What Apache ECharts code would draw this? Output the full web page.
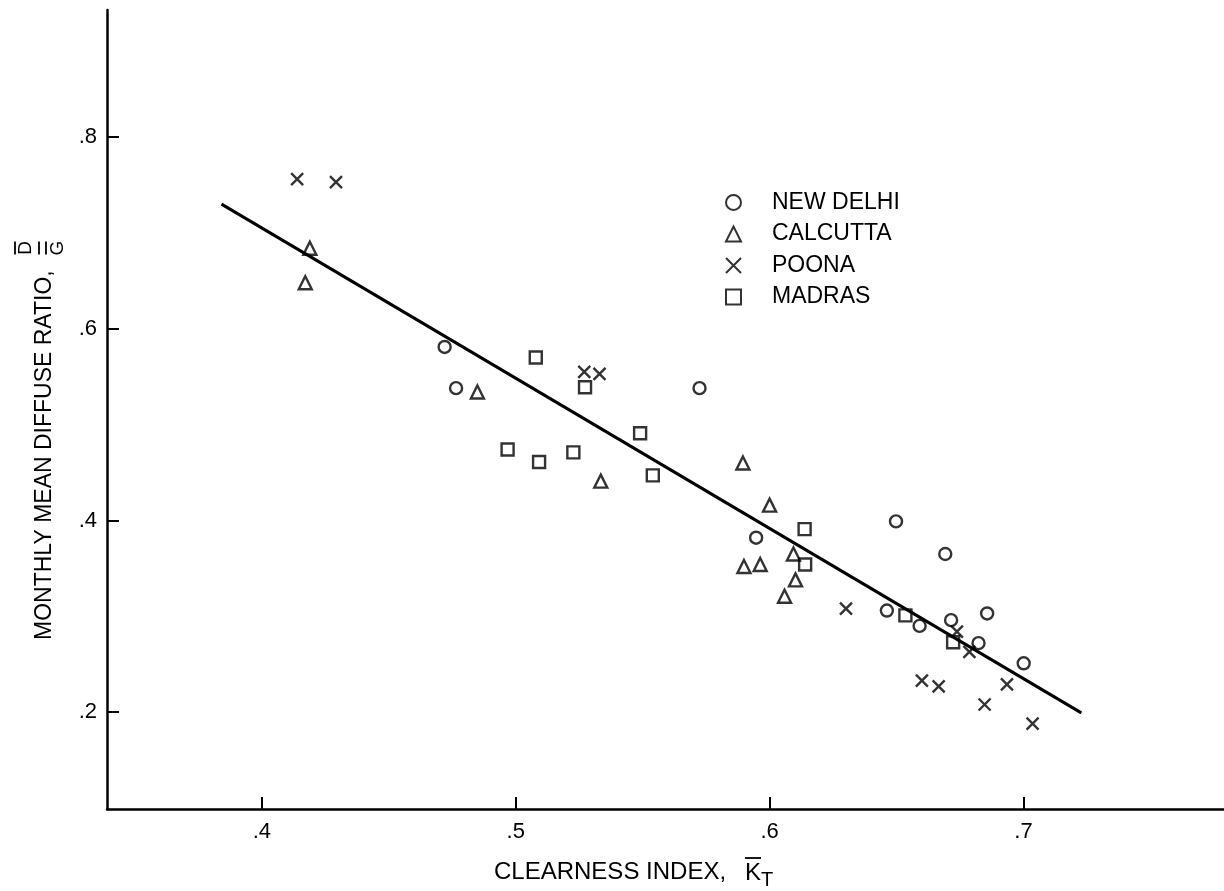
<!DOCTYPE html>
<html>
<head>
<meta charset="utf-8">
<style>
  html, body { margin: 0; padding: 0; background: #fff; }
  #chart { width: 1224px; height: 891px; }
</style>
<script src="https://cdn.jsdelivr.net/npm/echarts@6/dist/echarts.min.js"></script>
</head>
<body>
<div id="chart"></div>
<script>
// values: [clearness index, diffuse ratio]
const newDelhi = [
  [0.472, 0.581], [0.4765, 0.538], [0.5724, 0.538], [0.5947, 0.382],
  [0.6498, 0.399], [0.6692, 0.365], [0.6462, 0.306], [0.6591, 0.290],
  [0.6715, 0.296], [0.6857, 0.303], [0.6823, 0.272], [0.7001, 0.251]
]
const calcutta = [
  [0.4189, 0.684], [0.4171, 0.648], [0.4849, 0.534], [0.5335, 0.441],
  [0.5895, 0.460], [0.6000, 0.416], [0.6094, 0.365], [0.5899, 0.352],
  [0.5963, 0.354], [0.6102, 0.338], [0.6059, 0.321]
]
const poona = [
  [0.4139, 0.756], [0.4292, 0.753], [0.5270, 0.555], [0.5330, 0.553],
  [0.6301, 0.308], [0.6738, 0.284], [0.6787, 0.263], [0.6600, 0.233],
  [0.6666, 0.227], [0.6935, 0.229], [0.6847, 0.208], [0.7036, 0.188]
]
const madras = [
  [0.5079, 0.570], [0.5273, 0.539], [0.5490, 0.491], [0.4968, 0.474],
  [0.5092, 0.461], [0.5227, 0.471], [0.5540, 0.447], [0.6138, 0.391],
  [0.6140, 0.354], [0.6535, 0.301], [0.6723, 0.273]
]
const fitLine = [[0.3841, 0.730], [0.7228, 0.1993]]

const xTicks = [0.4, 0.5, 0.6, 0.7]
const yTicks = [0.2, 0.4, 0.6, 0.8]

const FONT = '"Liberation Sans", Arial, sans-serif'
const crossPath = 'path://M0,0L10,10M10,0L0,10'

const tickFmt = (v) => {
  return '.' + Math.round(v * 10)
}

const hollow = {
  color: 'transparent',
  borderColor: '#000',
  borderWidth: 2.4
}

const instance = echarts.init(document.getElementById('chart'))
const option = {
  backgroundColor: '#fff',
  animation: false,
  grid: {
    left: 107,
    top: 10,
    width: 1117,
    height: 799
  },
  xAxis: {
    type: 'value',
    min: 0.339,
    max: 0.779,
    splitLine: { show: false },
    axisLine: { lineStyle: { color: '#000', width: 2.5 } },
    axisTick: {
      customValues: xTicks,
      inside: true,
      length: 12,
      lineStyle: { color: '#000', width: 2 }
    },
    axisLabel: {
      customValues: xTicks,
      formatter: tickFmt,
      margin: 12,
      color: '#000',
      fontSize: 22,
      fontFamily: FONT
    }
  },
  yAxis: {
    type: 'value',
    min: 0.099,
    max: 0.9325,
    splitLine: { show: false },
    axisLine: { lineStyle: { color: '#000', width: 2.5 } },
    axisTick: {
      customValues: yTicks,
      inside: true,
      length: 12,
      lineStyle: { color: '#000', width: 2 }
    },
    axisLabel: {
      customValues: yTicks,
      formatter: tickFmt,
      margin: 10,
      color: '#000',
      fontSize: 22,
      fontFamily: FONT
    }
  },
  legend: {
    orient: 'vertical',
    left: 720,
    top: 186,
    itemWidth: 15,
    itemHeight: 15,
    itemGap: 8.5,
    data: ['NEW DELHI', 'CALCUTTA', 'POONA', 'MADRAS'],
    textStyle: {
      color: '#000',
      fontSize: 23,
      lineHeight: 22,
      fontFamily: FONT,
      padding: [0, 0, 0, 26]
    }
  },
  graphic: [
    {
      type: 'group',
      x: 45,
      y: 440,
      rotation: Math.PI / 2,
      children: [
        { type: 'text', x: -200, y: 0, style: { text: 'MONTHLY MEAN DIFFUSE RATIO,', font: '23px ' + FONT, fill: '#000', align: 'left', verticalAlign: 'middle' } },
        { type: 'text', x: 192, y: -19, style: { text: 'D', font: '19px ' + FONT, fill: '#000', align: 'center', verticalAlign: 'middle' } },
        { type: 'line', shape: { x1: 185.5, y1: -30, x2: 198.5, y2: -30 }, style: { stroke: '#000', lineWidth: 1.8 } },
        { type: 'line', shape: { x1: 185.5, y1: -6, x2: 198.5, y2: -6 }, style: { stroke: '#000', lineWidth: 1.8 } },
        { type: 'line', shape: { x1: 185.5, y1: 1, x2: 198.5, y2: 1 }, style: { stroke: '#000', lineWidth: 1.8 } },
        { type: 'text', x: 192, y: 13, style: { text: 'G', font: '19px ' + FONT, fill: '#000', align: 'center', verticalAlign: 'middle' } }
      ]
    },
    { type: 'text', x: 494, y: 872, style: { text: 'CLEARNESS INDEX,', font: '24px ' + FONT, fill: '#000', align: 'left', verticalAlign: 'middle' } },
    { type: 'text', x: 745, y: 873, style: { text: 'K', font: '24px ' + FONT, fill: '#000', align: 'left', verticalAlign: 'middle' } },
    { type: 'line', shape: { x1: 745, y1: 858, x2: 761, y2: 858 }, style: { stroke: '#000', lineWidth: 1.8 } },
    { type: 'text', x: 761, y: 880, style: { text: 'T', font: '20px ' + FONT, fill: '#000', align: 'left', verticalAlign: 'middle' } }
  ],
  series: [
    {
      name: 'fit',
      type: 'line',
      data: fitLine,
      symbol: 'none',
      lineStyle: { color: '#000', width: 3 },
      z: 1
    },
    {
      name: 'NEW DELHI',
      type: 'scatter',
      data: newDelhi,
      symbol: 'circle',
      symbolSize: 12,
      itemStyle: hollow
    },
    {
      name: 'CALCUTTA',
      type: 'scatter',
      data: calcutta,
      symbol: 'triangle',
      symbolSize: 13,
      itemStyle: hollow
    },
    {
      name: 'POONA',
      type: 'scatter',
      data: poona,
      symbol: crossPath,
      symbolSize: 12,
      itemStyle: hollow
    },
    {
      name: 'MADRAS',
      type: 'scatter',
      data: madras,
      symbol: 'rect',
      symbolSize: 12,
      itemStyle: hollow
    }
  ]
}
instance.setOption(option)
</script>
</body>
</html>
